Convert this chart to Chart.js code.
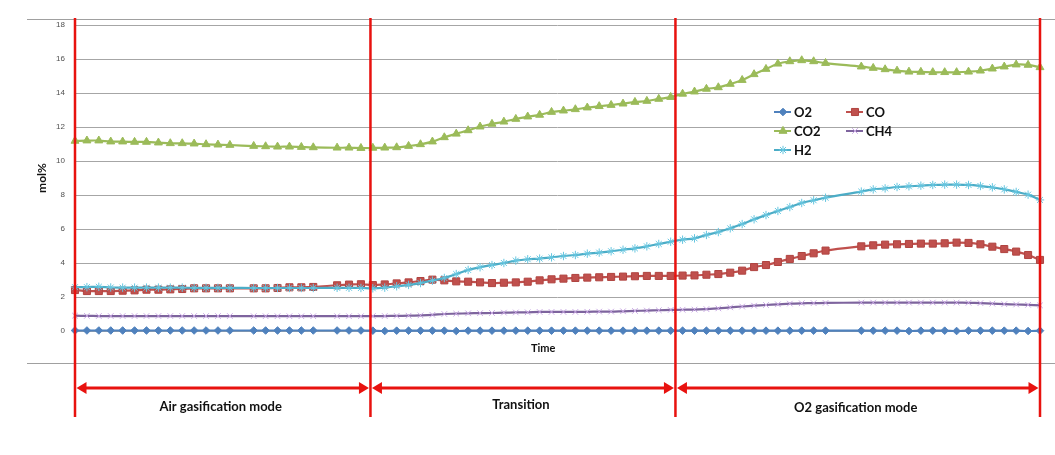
<!DOCTYPE html>
<html>
<head>
<meta charset="utf-8">
<script src="https://cdn.jsdelivr.net/npm/chart.js@4.4.0/dist/chart.umd.min.js"></script>
<style>
  html, body { margin: 0; padding: 0; background: #ffffff; }
  #wrap { width: 1055px; height: 455px; position: relative; }
</style>
</head>
<body>
<div id="wrap"><canvas id="c" width="1055" height="455"></canvas></div>
<script>
// ---- data ----
const times = [1,2,3,4,5,6,7,8,9,10,11,12,13,14,15,16,17,18,19,20,21,22,23,24,25,26,27,28,29,30,
  31,32,33,34,35,36,37,38,39,40,41,42,43,44,45,46,47,48,49,50,51,52,53,54,55,56,57,58,59,60,
  61,62,63,64,65,66,67,68,69,70,71,72,73,74,75,76,77,78,79,80,81,82];

const o2 = [0.03,0.03,0.03,0.03,0.03,0.03,0.03,0.03,0.03,0.03,0.03,0.03,0.03,0.03,null,0.03,0.03,0.03,0.03,0.03,0.03,null,0.03,0.03,0.03,
  0.02,0,0.02,0.02,0.02,0.02,0.02,0,0.02,0.02,0.02,0.02,0.02,0.02,0.02,0.02,0.02,0.02,0.02,0.02,0.02,0.02,0.02,0.02,0.02,0.02,0.02,
  0.02,0.02,0.02,0.02,0.02,0.02,0.02,0.02,0.02,0.02,0.02,0.02,null,null,0.02,0.02,0.02,0.02,0,0.02,0.02,0.02,0,0.02,0.02,0.02,0.02,0.02,0,0.02];

const co = [2.41,2.35,2.35,2.35,2.37,2.39,2.43,2.43,2.45,2.47,2.51,2.51,2.51,2.51,null,2.51,2.51,2.53,2.57,2.57,2.59,null,2.69,2.73,2.75,
  2.7,2.74,2.8,2.86,2.94,3.02,2.98,2.92,2.9,2.86,2.82,2.84,2.86,2.9,2.98,3.04,3.08,3.12,3.14,3.16,3.18,3.2,3.22,3.24,3.24,3.24,3.26,
  3.27,3.31,3.35,3.43,3.55,3.76,3.88,4.06,4.24,4.41,4.57,4.73,null,null,4.98,5.04,5.08,5.1,5.12,5.14,5.14,5.16,5.2,5.18,5.1,4.96,4.82,4.67,4.47,4.18];

const co2 = [11.18,11.2,11.2,11.14,11.14,11.12,11.12,11.08,11.04,11.04,11.02,10.98,10.96,10.94,null,10.88,10.86,10.84,10.84,10.82,10.8,null,10.78,10.78,10.76,
  10.77,10.78,10.8,10.88,10.98,11.14,11.39,11.6,11.8,12.02,12.18,12.31,12.47,12.61,12.71,12.88,12.96,13.04,13.14,13.22,13.29,13.37,13.47,13.53,13.65,13.76,13.95,
  14.08,14.24,14.33,14.53,14.76,15.1,15.41,15.72,15.86,15.92,15.86,15.76,null,null,15.55,15.47,15.39,15.31,15.25,15.24,15.22,15.22,15.22,15.25,15.31,15.43,15.55,15.67,15.65,15.51];

const ch4 = [0.9,0.89,0.88,0.88,0.88,0.88,0.88,0.88,0.88,0.88,0.88,0.88,0.88,0.88,null,0.87,0.87,0.87,0.87,0.87,0.87,null,0.87,0.87,0.87,
  0.88,0.88,0.89,0.9,0.92,0.95,1.0,1.02,1.04,1.05,1.06,1.08,1.09,1.1,1.12,1.12,1.12,1.12,1.13,1.14,1.14,1.16,1.18,1.2,1.22,1.24,1.25,
  1.26,1.29,1.33,1.39,1.44,1.49,1.53,1.57,1.61,1.63,1.64,1.65,null,null,1.67,1.67,1.67,1.67,1.67,1.67,1.67,1.67,1.67,1.66,1.64,1.61,1.58,1.56,1.54,1.51];

const h2 = [2.58,2.58,2.6,2.56,2.55,2.55,2.55,2.55,2.55,2.55,2.54,2.54,2.54,2.54,null,2.53,2.53,2.53,2.53,2.53,2.53,null,2.54,2.54,2.53,
  2.51,2.55,2.63,2.71,2.82,2.96,3.12,3.35,3.59,3.75,3.88,4.0,4.14,4.22,4.26,4.33,4.41,4.47,4.55,4.61,4.69,4.78,4.86,4.98,5.12,5.25,5.37,
  5.45,5.65,5.82,6.04,6.29,6.57,6.82,7.06,7.29,7.53,7.69,7.84,null,null,8.2,8.33,8.39,8.47,8.51,8.55,8.59,8.61,8.61,8.59,8.53,8.45,8.33,8.18,8.02,7.71];

const yTicks = [0,2,4,6,8,10,12,14,16,18];
const modeBounds = [0, 24.8, 50.4, 81];          // time positions of the red dividers
const modeLabels = ['Air gasification mode', 'Transition', 'O2 gasification mode'];
const seriesNames = ['O2', 'CO', 'CO2', 'CH4', 'H2'];
const xTitle = 'Time';
const yTitle = 'mol%';

// ---- chart ----
const styles = [
  {line:'#4F81BD', fill:'#4F81BD', stroke:'#4F81BD', style:'rectRot', r:3.8},
  {line:'#C0504D', fill:'#C0504D', stroke:'#B04440', style:'rect', r:5},
  {line:'#9BBB59', fill:'#9BBB59', stroke:'#9BBB59', style:'triangle', r:4.6},
  {line:'#7E649E', fill:'#C9A8E4', stroke:'#C9A8E4', style:'crossRot', r:4},
  {line:'#4BACC6', fill:'#66C6E0', stroke:'#66C6E0', style:'star', r:4.2}
];
const seriesData = [o2, co, co2, ch4, h2];

const datasets = seriesNames.map((n, i) => ({
  label: n,
  data: seriesData[i],
  borderColor: styles[i].line,
  borderWidth: 2.2,
  backgroundColor: styles[i].fill,
  pointBackgroundColor: styles[i].fill,
  pointBorderColor: styles[i].stroke,
  pointBorderWidth: 1,
  pointStyle: styles[i].style,
  pointRadius: styles[i].r,
  tension: 0.35,
  spanGaps: true,
  clip: false,
  order: 5 - i
}));

const overlay = {
  id: 'overlay',
  afterDatasetsDraw(chart) {
    const {ctx, chartArea: ca, scales: {x}} = chart;
    ctx.save();
    // frame lines
    ctx.strokeStyle = '#a0a0a0';
    ctx.lineWidth = 1;
    ctx.beginPath();
    ctx.moveTo(ca.left - 48, ca.top - 5.5); ctx.lineTo(chart.width, ca.top - 5.5);
    ctx.moveTo(ca.left - 48, ca.bottom + 32.5); ctx.lineTo(chart.width, ca.bottom + 32.5);
    ctx.stroke();

    // x axis title
    ctx.fillStyle = '#111111';
    ctx.font = 'bold 11px Lato, "Liberation Sans", sans-serif';
    ctx.textAlign = 'center';
    ctx.textBaseline = 'middle';
    ctx.fillText(xTitle, x.getPixelForValue(39.3), ca.bottom + 17);

    // red dividers
    const px = modeBounds.map(b => x.getPixelForValue(b));
    ctx.strokeStyle = '#E8120F';
    ctx.lineWidth = 2.5;
    ctx.beginPath();
    px.forEach(p => { ctx.moveTo(p, ca.top - 7); ctx.lineTo(p, ca.bottom + 86); });
    ctx.stroke();

    // arrows
    const ay = ca.bottom + 57;
    ctx.fillStyle = '#E8120F';
    for (let k = 0; k < modeLabels.length; k++) {
      const a = px[k] + 1.5, b = px[k + 1] - 1.5;
      ctx.lineWidth = 3;
      ctx.beginPath(); ctx.moveTo(a + 6, ay); ctx.lineTo(b - 6, ay); ctx.stroke();
      ctx.beginPath(); ctx.moveTo(a, ay); ctx.lineTo(a + 10, ay - 6); ctx.lineTo(a + 10, ay + 6); ctx.closePath(); ctx.fill();
      ctx.beginPath(); ctx.moveTo(b, ay); ctx.lineTo(b - 10, ay - 6); ctx.lineTo(b - 10, ay + 6); ctx.closePath(); ctx.fill();
    }
    // mode labels
    ctx.fillStyle = '#111111';
    ctx.font = 'bold 13px Lato, "Liberation Sans", sans-serif';
    const ly = [ca.bottom + 76, ca.bottom + 74, ca.bottom + 77];
    for (let k = 0; k < modeLabels.length; k++) {
      ctx.fillText(modeLabels[k], (px[k] + px[k + 1]) / 2 - 2, ly[k]);
    }

    // legend
    const lx0 = ca.left + 699, ly0 = ca.top + 87;
    const cols = [0, 72], rowH = 19;
    ctx.font = 'bold 13px Lato, "Liberation Sans", sans-serif';
    ctx.textAlign = 'left';
    chart.data.datasets.forEach((ds, i) => {
      const cx = lx0 + cols[i % 2], cy = ly0 + Math.floor(i / 2) * rowH;
      ctx.strokeStyle = ds.borderColor;
      ctx.lineWidth = 2;
      ctx.beginPath(); ctx.moveTo(cx, cy); ctx.lineTo(cx + 17, cy); ctx.stroke();
      ctx.fillStyle = ds.pointBackgroundColor;
      ctx.strokeStyle = ds.pointBorderColor;
      ctx.lineWidth = 1;
      Chart.helpers.drawPoint(ctx, {pointStyle: ds.pointStyle, radius: ds.pointRadius, rotation: 0, borderWidth: 1}, cx + 9, cy);
      ctx.fillStyle = '#111111';
      ctx.fillText(ds.label, cx + 20, cy + 1);
    });
    ctx.restore();
  }
};

new Chart(document.getElementById('c'), {
  type: 'line',
  data: { labels: times, datasets },
  options: {
    responsive: false,
    animation: false,
    events: [],
    layout: { padding: { top: 25, right: 15, bottom: 0, left: 0 } },
    plugins: { legend: { display: false }, tooltip: { enabled: false } },
    scales: {
      x: {
        type: 'category',
        offset: false,
        ticks: { display: false },
        grid: { display: false },
        border: { display: false },
        afterFit(s) { s.height = 124; }
      },
      y: {
        min: 0, max: 18,
        afterBuildTicks(s) { s.ticks = yTicks.map(v => ({ value: v })); },
        ticks: { color: '#505050', padding: 10,
                 font: { family: '"Liberation Sans", sans-serif', size: 8 } },
        grid: { color: '#a6a6a6', lineWidth: 1, drawTicks: false },
        border: { display: false },
        title: { display: true, text: yTitle, color: '#111111',
                 font: { family: 'Lato, "Liberation Sans", sans-serif', size: 12, weight: 'bold' },
                 padding: { top: 35, bottom: 0 } },
        afterFit(s) { s.width = 75; }
      }
    }
  },
  plugins: [overlay]
});
</script>
</body>
</html>
